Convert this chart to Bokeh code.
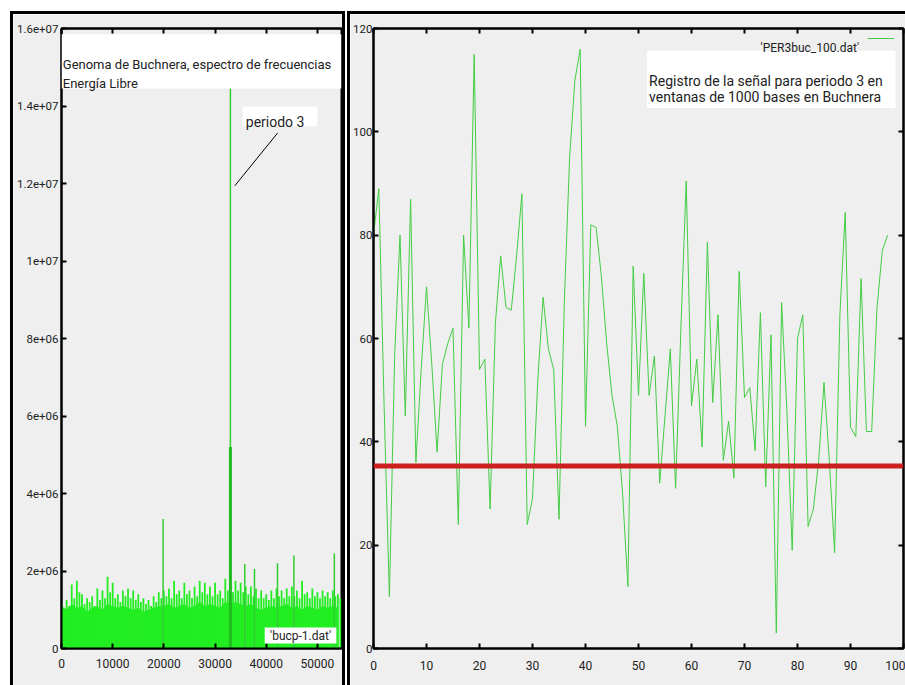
from bokeh.plotting import figure
from bokeh.layouts import row
from bokeh.models import (LinearAxis, FixedTicker, Span, Label, BoxAnnotation,
                          Legend, LegendItem, ColumnDataSource)
from bokeh.embed import file_html
from bokeh.resources import INLINE

# ---------------- data: left panel (spectrum) ----------------
spec_x = [i * 500 for i in range(110)]
spec_top_m = [1.20, 1.05, 1.25, 1.10, 1.65, 1.30, 1.75, 1.45, 1.40, 1.15,
              1.30, 1.20, 1.35, 1.10, 1.55, 1.25, 1.50, 1.30, 1.85, 1.45,
              1.70, 1.30, 1.40, 1.20, 1.50, 1.35, 1.55, 1.30, 1.50, 1.25,
              1.40, 1.20, 1.30, 1.15, 1.25, 1.10, 1.35, 1.20, 1.45, 1.30,
              1.50, 1.35, 1.55, 1.30, 1.75, 1.40, 1.50, 1.30, 1.70, 1.40,
              1.50, 1.30, 1.60, 1.35, 1.75, 1.45, 1.70, 1.40, 1.60, 1.35,
              1.70, 1.40, 1.50, 1.30, 1.80, 1.50, 1.60, 1.45, 1.75, 1.50,
              1.70, 1.45, 1.60, 1.40, 1.60, 1.35, 1.55, 1.30, 1.50, 1.30,
              1.40, 1.25, 1.50, 1.30, 1.55, 1.35, 1.50, 1.30, 1.55, 1.35,
              1.60, 1.35, 1.50, 1.30, 1.75, 1.40, 1.45, 1.30, 1.55, 1.35,
              1.45, 1.30, 1.50, 1.35, 1.45, 1.30, 1.50, 1.35, 1.40, 1.30]
spec_top = [v * 1e6 for v in spec_top_m]
base_x = [i * 1000 for i in range(55)]
base_m = [1.10, 1.00, 1.15, 1.05, 1.10, 0.95, 1.05, 1.10, 1.00, 1.15,
          1.10, 1.05, 1.10, 1.05, 1.00, 1.05, 0.95, 1.00, 1.05, 1.10,
          1.10, 1.15, 1.05, 1.10, 1.15, 1.05, 1.10, 1.20, 1.10, 1.15,
          1.10, 1.05, 1.20, 1.15, 1.20, 1.15, 1.10, 1.15, 1.05, 1.00,
          1.05, 1.10, 1.05, 1.10, 1.15, 1.05, 1.10, 1.00, 1.10, 1.05,
          1.00, 1.10, 1.05, 1.10, 1.05]
base_top = [v * 1e6 for v in base_m]
spike_x = [19850, 35800, 37700, 42200, 45400, 53300]
spike_top = [3.34e6, 2.18e6, 2.05e6, 2.20e6, 2.40e6, 2.45e6]
peak_x = [33000]
peak_top = [1.446e7]
peak_thick_top = [5.2e6]

left_xticks = [0, 10000, 20000, 30000, 40000, 50000]
left_yticks = [0, 2e6, 4e6, 6e6, 8e6, 1e7, 1.2e7, 1.4e7, 1.6e7]
left_ylabels = ["0", "2e+06", "4e+06", "6e+06", "8e+06", "1e+07", "1.2e+07", "1.4e+07", "1.6e+07"]

# ---------------- data: right panel (period-3 signal) ----------------
per3_x = list(range(98))
per3_y = [80, 89, 47, 10, 57, 80, 45, 87, 36, 54,
          70, 55, 38, 55, 59, 62, 24, 80, 62, 115,
          54, 56, 27, 63, 76, 66, 65.5, 76, 88, 24,
          29, 52, 68, 58, 54, 25, 67, 95, 110, 116,
          43, 82, 81.5, 72, 59, 49, 43, 30, 12, 74,
          49, 72.6, 49, 56.6, 32, 45, 58, 31, 62, 90.5,
          47, 56, 39, 78.6, 47.6, 64.6, 36.4, 44, 33, 73,
          48.6, 50.5, 38.3, 65, 31.3, 60.7, 3, 67, 46, 19,
          60, 64.6, 23.6, 27, 36.4, 51.5, 36.4, 18.5, 64.6, 84.4,
          42.8, 41, 71.6, 42, 42, 66, 77, 80]
threshold = 35.3
right_xticks = [0, 10, 20, 30, 40, 50, 60, 70, 80, 90, 100]
right_yticks = [0, 20, 40, 60, 80, 100, 120]

FONT = "Roboto"
BG = "#efefef"
GREEN_FILL = "#22ee22"
GREEN_LINE = "#44cc44"
TXT = "#222222"


def style_axis(ax, ticks, font_size="12px", standoff=5, show_labels=True):
    ax.ticker = FixedTicker(ticks=ticks)
    ax.axis_line_color = "black"
    ax.axis_line_width = 2
    ax.major_tick_line_color = "black"
    ax.major_tick_line_width = 2
    ax.major_tick_in = 5
    ax.major_tick_out = 0
    ax.minor_tick_line_color = None
    ax.major_label_text_font = FONT
    ax.major_label_text_color = TXT
    ax.major_label_standoff = standoff
    ax.major_label_text_font_size = font_size
    if not show_labels:
        ax.major_label_text_color = None
        ax.major_label_text_font_size = "1px"
        ax.major_label_standoff = 0


# ---------------- left figure ----------------
p1 = figure(width=329, height=671, x_range=(0, 54700), y_range=(0, 1.6e7),
            output_backend="svg", toolbar_location=None,
            min_border_left=47, min_border_right=1, min_border_top=13, min_border_bottom=37,
            background_fill_color=BG, border_fill_color=BG,
            margin=(14, 0, 0, 13),
            styles={"outline": "3px solid black"})
p1.grid.visible = False
p1.outline_line_color = "black"
p1.outline_line_width = 2

p1.varea(x=base_x, y1=[0] * len(base_x), y2=base_top, fill_color=GREEN_FILL)
p1.segment(x0=spec_x, y0=[0] * len(spec_x), x1=spec_x, y1=spec_top,
           line_color=GREEN_FILL, line_width=1.8)
p1.segment(x0=spike_x, y0=[0] * len(spike_x), x1=spike_x, y1=spike_top,
           line_color="#33cc33", line_width=1.5)
p1.segment(x0=peak_x, y0=[0], x1=peak_x, y1=peak_top, line_color="#33cc33", line_width=1.5)
p1.segment(x0=peak_x, y0=[0], x1=peak_x, y1=peak_thick_top, line_color="#22bb22", line_width=3)

style_axis(p1.xaxis[0], left_xticks, standoff=10)
style_axis(p1.yaxis[0], left_yticks, font_size="11.5px", standoff=3)
p1.yaxis[0].major_label_overrides = {t: l for t, l in zip(left_yticks, left_ylabels)}
top1 = LinearAxis()
style_axis(top1, left_xticks, show_labels=False)
p1.add_layout(top1, "above")

# title box
p1.add_layout(BoxAnnotation(left=0, right=54700, bottom=1.445e7, top=1.585e7,
                            fill_color="white", fill_alpha=1, line_color=None))
for txt, yy in [("Genoma de Buchnera, espectro de frecuencias", 1.507e7),
                ("Energía Libre", 1.458e7)]:
    p1.add_layout(Label(x=250, y=yy, text=txt, text_font=FONT, text_font_size="13px",
                        text_color=TXT, text_baseline="alphabetic"))
# "periodo 3" box and leader
p1.add_layout(BoxAnnotation(left=35400, right=50000, bottom=1.348e7, top=1.399e7,
                            fill_color="white", fill_alpha=1, line_color=None))
p1.add_layout(Label(x=36000, y=1.358e7, text="periodo 3", text_font=FONT,
                    text_font_size="14px", text_color=TXT, text_baseline="alphabetic"))
leader_x = [42200, 33850]
leader_y = [1.33e7, 1.194e7]
p1.line(x=leader_x, y=leader_y, line_color="black", line_width=1)
# key box
p1.add_layout(BoxAnnotation(left=39700, right=53700, bottom=1.28e5, top=5.39e5,
                            fill_color="white", fill_alpha=1, line_color=None))
p1.add_layout(Label(x=46700, y=3.3e5, text="'bucp-1.dat'", text_font=FONT,
                    text_font_size="12px", text_color=TXT,
                    text_align="center", text_baseline="middle"))

# ---------------- right figure ----------------
p2 = figure(width=555, height=671, x_range=(0, 100), y_range=(0, 120),
            output_backend="svg", toolbar_location=None,
            min_border_left=22, min_border_right=2, min_border_top=14, min_border_bottom=32,
            background_fill_color=BG, border_fill_color=BG,
            margin=(14, 0, 0, 8),
            styles={"outline": "3px solid black"})
p2.grid.visible = False
p2.outline_line_color = "black"
p2.outline_line_width = 2

src = ColumnDataSource(dict(x=per3_x, y=per3_y))
line_r = p2.line("x", "y", source=src, line_color=GREEN_LINE, line_width=1)
p2.add_layout(Span(location=threshold, dimension="width", line_color="#cc2020", line_width=5))

style_axis(p2.xaxis[0], right_xticks, standoff=12)
style_axis(p2.yaxis[0], right_yticks, font_size="11.5px", standoff=1)
top2 = LinearAxis()
style_axis(top2, right_xticks, show_labels=False)
p2.add_layout(top2, "above")
right2 = LinearAxis()
style_axis(right2, right_yticks, show_labels=False)
p2.add_layout(right2, "right")

p2.add_layout(BoxAnnotation(left=51.6, right=98.5, bottom=104.6, top=115.7,
                            fill_color="white", fill_alpha=1, line_color=None))
for txt, yy in [("Registro de la señal para periodo 3 en", 109.8),
                ("ventanas de 1000 bases en Buchnera", 106.7)]:
    p2.add_layout(Label(x=52.0, y=yy, text=txt, text_font=FONT, text_font_size="14px",
                        text_color=TXT, text_baseline="alphabetic"))
p2.add_layout(Label(x=91.6, y=116.3, text="'PER3buc_100.dat'", text_font=FONT,
                    text_font_size="12px", text_color=TXT,
                    text_align="right", text_baseline="alphabetic"))
leg = Legend(items=[LegendItem(label=" ", renderers=[line_r])],
             location=(494, 605), glyph_width=27, glyph_height=10, label_height=10,
             label_width=1, padding=0, margin=0, spacing=0, label_standoff=0,
             background_fill_alpha=0, border_line_color=None,
             label_text_font_size="8px")
p2.add_layout(leg)

layout = row(p1, p2)
open("out.html", "w").write(file_html(layout, INLINE))
